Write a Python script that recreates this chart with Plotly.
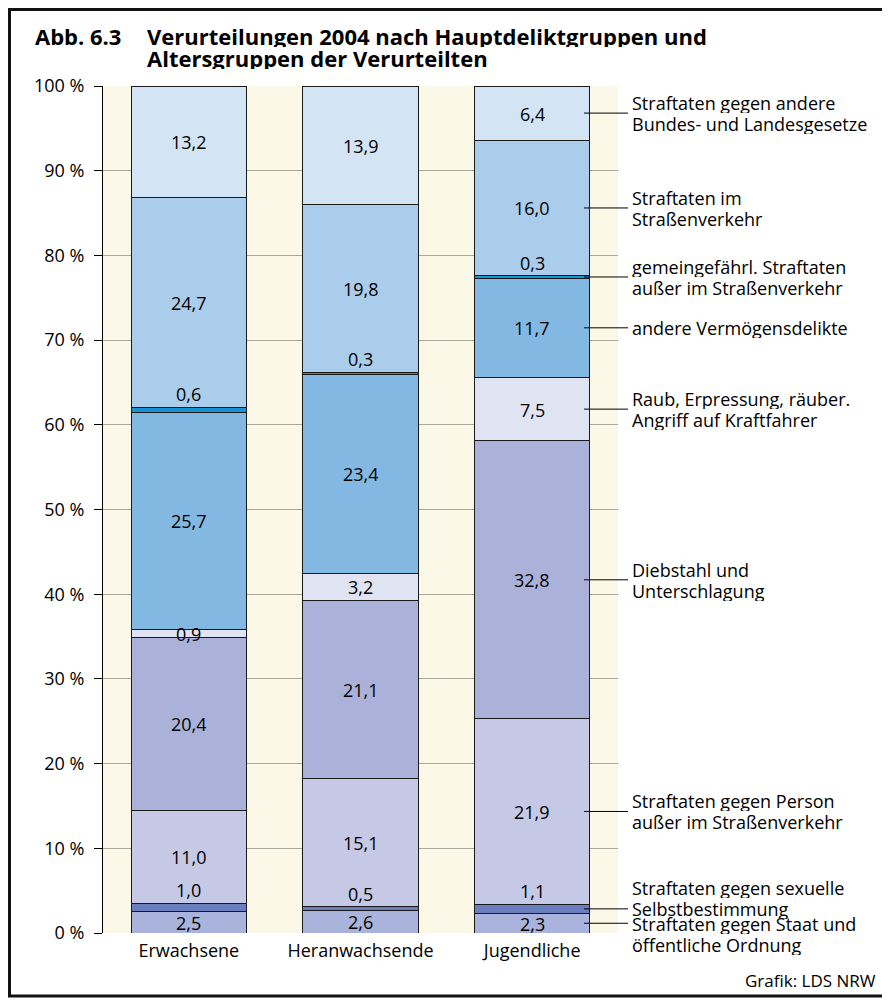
import plotly.graph_objects as go

# Daten (Anteile in %), von unten nach oben
gruppen = ['Erwachsene', 'Heranwachsende', 'Jugendliche']

delikte = ['Straftaten gegen Staat und<br>öffentliche Ordnung',
           'Straftaten gegen sexuelle<br>Selbstbestimmung',
           'Straftaten gegen Person<br>außer im Straßenverkehr',
           'Diebstahl und<br>Unterschlagung',
           'Raub, Erpressung, räuber.<br>Angriff auf Kraftfahrer',
           'andere Vermögensdelikte',
           'gemeingefährl. Straftaten<br>außer im Straßenverkehr',
           'Straftaten im<br>Straßenverkehr',
           'Straftaten gegen andere<br>Bundes- und Landesgesetze']

erwachsene = [2.5, 1.0, 11.0, 20.4, 0.9, 25.7, 0.6, 24.7, 13.2]
heranwachsende = [2.6, 0.5, 15.1, 21.1, 3.2, 23.4, 0.3, 19.8, 13.9]
jugendliche = [2.3, 1.1, 21.9, 32.8, 7.5, 11.7, 0.3, 16.0, 6.4]

werte = [erwachsene, heranwachsende, jugendliche]

farben = ['#a9b3db', '#6a7dbf', '#c5c9e6', '#abb2d9', '#e0e3f2',
          '#83b8e2', '#1a93d3', '#abcdec', '#d3e4f4']

# Beschriftung oberhalb des Segments (schmale Segmente)
ueber_segment = [False, True, False, False, False, False, True, False, False]
# welche Zeile des Legendentextes auf der Hinweislinie liegt (0 = erste, 1 = zweite, None = mittig)
zeile_an_linie = [0, 1, None, None, None, None, None, None, None]

W, H = 890, 1001
OFF = 8  # Seitenrand des Browsers
L, R, T, B = 95, 280, 78, 76
pw, ph = W - L - R, H - T - B
ZEILE = 21
FS = 18


def px_x(sx):
    return (sx - OFF - L) / pw


def px_y(sy):
    return (H - B - sy + OFF) / ph


def fmt(v):
    return f'{v:.1f}'.replace('.', ',')


fig = go.Figure()
for i, name in enumerate(delikte):
    fig.add_bar(x=gruppen, y=[w[i] for w in werte], name=name,
                marker=dict(color=farben[i], line=dict(color='#1a1a1a', width=1)),
                width=0.67, showlegend=False, hoverinfo='skip')

# Werte in den Balken
for g, w in zip(gruppen, werte):
    unten = 0
    for i, v in enumerate(w):
        oben = unten + v
        if ueber_segment[i]:
            fig.add_annotation(x=g, y=oben, text=fmt(v), showarrow=False,
                               yanchor='bottom', height=21, yshift=1,
                               font=dict(size=FS, color='black'))
        else:
            fig.add_annotation(x=g, y=(unten + oben) / 2, text=fmt(v),
                               showarrow=False, yanchor='middle', height=21,
                               font=dict(size=FS, color='black'))
        unten = oben

# Legende rechts mit Hinweislinien an den Jugendlichen-Balken
unten = 0
for i, v in enumerate(jugendliche):
    mitte = (unten + v / 2) / 100
    unten += v
    fig.add_shape(type='line', xref='paper', yref='paper',
                  x0=px_x(584), x1=px_x(628), y0=mitte, y1=mitte,
                  line=dict(color='black', width=1))
    zeilen = delikte[i].split('<br>')
    n = len(zeilen)
    if zeile_an_linie[i] is None:
        start = -(n - 1) / 2
    else:
        start = -zeile_an_linie[i]
    for k, z in enumerate(zeilen):
        fig.add_annotation(xref='paper', yref='paper', x=px_x(630), y=mitte,
                           text=z, showarrow=False, xanchor='left',
                           yanchor='middle', align='left', height=ZEILE,
                           yshift=-(start + k) * ZEILE,
                           font=dict(size=FS, color='black'))

# Rahmen
fig.add_shape(type='rect', xref='paper', yref='paper',
              x0=px_x(9.5), x1=px_x(885), y0=px_y(996), y1=px_y(9.5),
              line=dict(color='#111111', width=3), fillcolor='rgba(0,0,0,0)')

# Titel
fig.add_annotation(xref='paper', yref='paper', x=px_x(33), y=px_y(36),
                   text='<b>Abb. 6.3</b>', showarrow=False, xanchor='left',
                   yanchor='middle', height=22, font=dict(size=22, color='black'))
fig.add_annotation(xref='paper', yref='paper', x=px_x(145), y=px_y(36),
                   text='<b>Verurteilungen 2004 nach Hauptdeliktgruppen und</b>',
                   showarrow=False, xanchor='left', yanchor='middle', height=22,
                   font=dict(size=22, color='black'))
fig.add_annotation(xref='paper', yref='paper', x=px_x(145), y=px_y(58),
                   text='<b>Altersgruppen der Verurteilten</b>',
                   showarrow=False, xanchor='left', yanchor='middle', height=22,
                   font=dict(size=22, color='black'))

fig.add_annotation(xref='paper', yref='paper', x=px_x(878), y=px_y(980),
                   text='Grafik: LDS NRW', showarrow=False, xanchor='right',
                   yanchor='middle', font=dict(size=17, color='black'))

fig.update_layout(width=W, height=H, barmode='stack',
                  margin=dict(l=L, r=R, t=T, b=B),
                  paper_bgcolor='white', plot_bgcolor='#fcf8e8',
                  font=dict(family='Open Sans', size=FS, color='black'))
fig.update_xaxes(range=[-0.5, 2.5], showgrid=False, showline=False,
                 ticks='', ticklabelstandoff=5, tickfont=dict(size=FS))
fig.update_yaxes(range=[0, 100], tickvals=list(range(0, 101, 10)),
                 ticktext=[f'{v} %' for v in range(0, 101, 10)],
                 ticks='outside', ticklen=8, tickcolor='black',
                 ticklabelstandoff=6,
                 showline=True, linecolor='black', linewidth=1,
                 showgrid=True, gridcolor='#aaa79c', gridwidth=1,
                 zeroline=False, tickfont=dict(size=FS))

fig.write_html('out.html')
